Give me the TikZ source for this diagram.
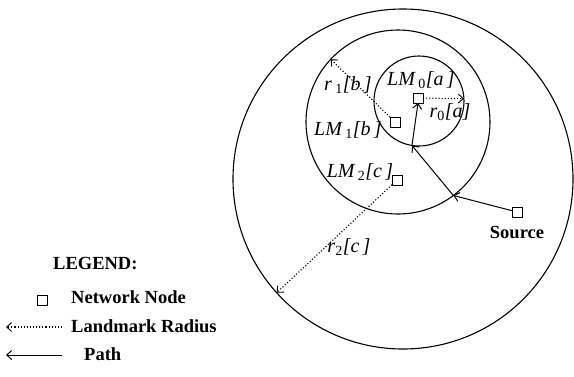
\documentclass[tikz,border=0pt]{standalone}
\usepackage{fontspec}
\setmainfont{Liberation Serif}
\usetikzlibrary{arrows.meta}
\begin{document}
\begin{tikzpicture}[x=1pt,y=-1pt,
 ring/.style={circle,draw,line width=1.1pt,inner sep=0pt,outer sep=0pt,minimum size=#1},
 nnode/.style={draw,fill=white,line width=1pt,minimum size=10pt,inner sep=0pt,outer sep=0pt},
 radln/.style={dotted,line width=1.1pt,-{Straight Barb[length=5pt,width=9pt,line width=0.9pt]}},
 pathln/.style={line width=1pt,-{Straight Barb[length=5pt,width=9pt,line width=1pt]}},
 lbl/.style={font=\fontsize{20}{20}\selectfont,inner sep=0pt},
 leg/.style={font=\fontsize{18.5}{18.5}\selectfont\bfseries,inner sep=0pt,anchor=west}]
\useasboundingbox (0,0) rectangle (574,376);
% rings
\node[ring=340pt] (c2) at (403,179) {};
\node[ring=184pt] (c1) at (398,122) {};
\node[ring=90pt] (c0) at (419,101) {};
% network nodes
\node[nnode] (n0) at (418,98) {};
\node[nnode] (n1) at (395,122) {};
\node[nnode] (n2) at (397,180) {};
\node[nnode] (src) at (517,212) {};
% junction points of the path
\coordinate (j1) at (c1.-53);
\coordinate (j0) at (c0.-99);
% path
\draw[pathln] (src) -- (j1);
\draw[pathln] (j1) -- (j0);
\draw[pathln] (j0) -- (n0.south);
% radii
\draw[radln] (n0) -- (c0.3);
\draw[radln] (n1) -- (c1.137);
\draw[radln] (n2) -- (c2.222);
% labels
\node[lbl] (l0) at (421,80) {\itshape LM\,\textsubscript{\upshape 0}[a\,]};
\node[lbl] (lr0) at (450,112) {\itshape r\textsubscript{\upshape 0}[a]};
\node[lbl] (lr1) at (348,85) {\itshape r\,\textsubscript{\upshape 1}[b\,]};
\node[lbl] (l1) at (348,130) {\itshape LM\,\textsubscript{\upshape 1}[b\,]};
\node[lbl] (l2) at (360,172) {\itshape LM\,\textsubscript{\upshape 2}[c\,]};
\node[lbl] (lr2) at (349,247) {\itshape r\textsubscript{\upshape 2}[c\,]};
\node[leg,anchor=center] (srcl) at (517,232) {Source};
% legend
\node[leg] (legt) at (53,264) {LEGEND:};
\node[nnode] (legn) at (42,300) {};
\node[leg] (legnt) at (71,297) {Network Node};
\coordinate (lra) at (62,327);
\coordinate (lrb) at (6,327);
\draw[radln] (lra) -- (lrb);
\node[leg] (legrt) at (71,326) {Landmark Radius};
\coordinate (lpa) at (62,355);
\coordinate (lpb) at (6,355);
\draw[pathln] (lpa) -- (lpb);
\node[leg] (legpt) at (84,354) {Path};
\end{tikzpicture}
\end{document}
